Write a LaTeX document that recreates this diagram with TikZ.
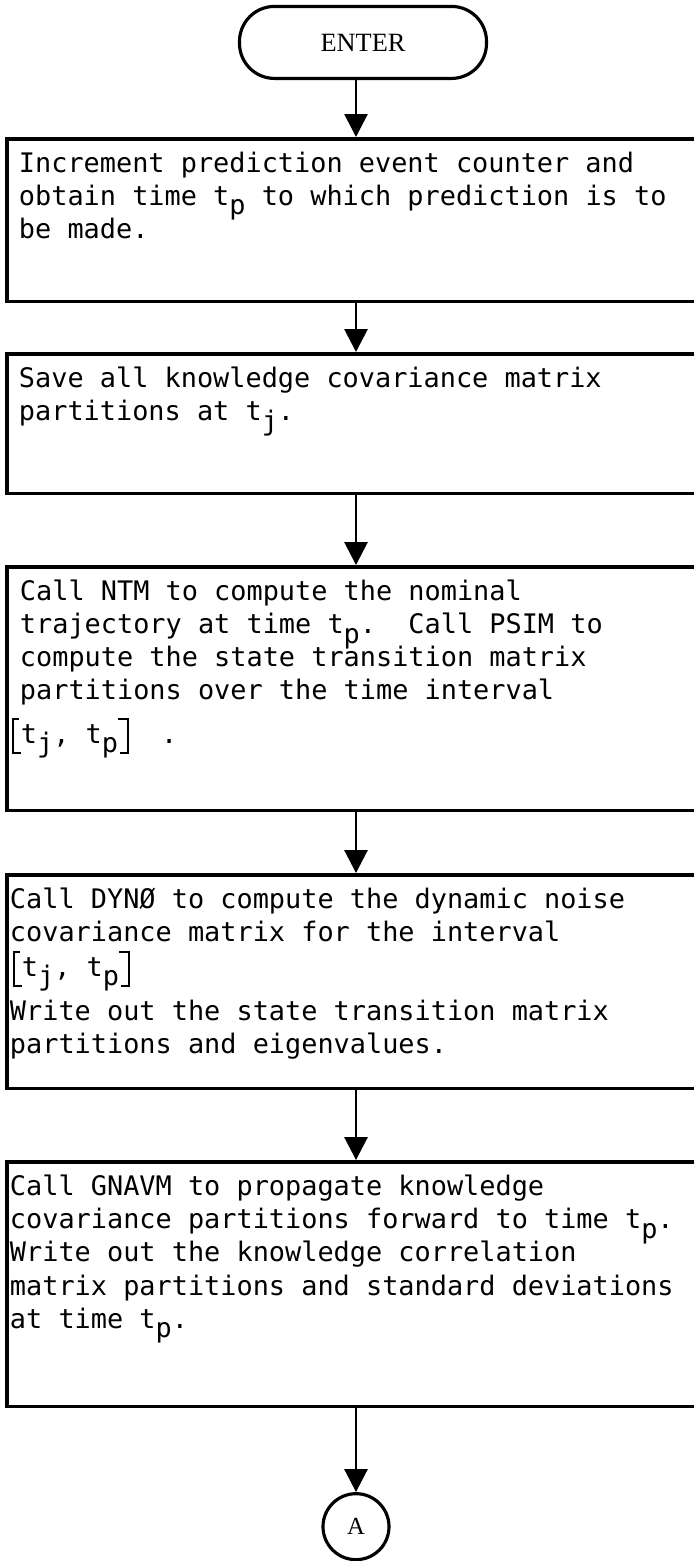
\documentclass[tikz,border=0pt]{standalone}
\usepackage{fontspec}
\setmainfont{Liberation Serif}
\newfontfamily\typewriter{DejaVu Sans Mono}
\usetikzlibrary{arrows.meta, positioning}

% lowered subscript, same cell as a typed letter
\newcommand{\lowsub}[1]{\smash{\raisebox{-0.34em}{#1}}}
% hand-ruled brackets round the time interval
\newcommand{\lbrak}{\rlap{\rule[-6pt]{5pt}{1.1pt}}\rlap{\rule[13.6pt]{4pt}{1.1pt}}\rule[-6pt]{1.1pt}{20.7pt}\kern4pt}
\newcommand{\rbrak}{\kern5pt\llap{\rule[-6pt]{4pt}{1.1pt}}\llap{\rule[13.6pt]{5pt}{1.1pt}}\rule[-6pt]{1.1pt}{20.7pt}}
\newcommand{\interval}{\raisebox{0pt}[12pt][4pt]{\lbrak t\lowsub{j}, t\lowsub{p}\rbrak}}
% box text: height, left margin, lines
\newcommand{\boxbody}[3]{\parbox[c][#1][t]{13.96cm}{\raggedright\leftskip=#2\frenchspacing\vspace*{0.27cm}#3}}

\begin{document}
\begin{tikzpicture}[
    node distance=1cm,
    terminal/.style={draw, rectangle, rounded corners=0.7cm, line width=1.8pt, minimum width=4.94cm, minimum height=1.44cm, font=\fontsize{15}{17}\selectfont},
    procbox/.style={draw, rectangle, line width=2pt, minimum width=13.96cm, inner sep=0pt, font=\typewriter\fontsize{15.3}{18.8}\selectfont},
    connector/.style={draw, circle, line width=1.8pt, minimum size=1.32cm, inner sep=0pt, font=\fontsize{14}{16}\selectfont},
    arrow/.style={line width=1.6pt, -{Triangle[width=0.46cm, length=0.46cm]}}
]
\useasboundingbox (0,0) rectangle (13.88,-31.22);
\clip (0,0) rectangle (13.88,-31.22);

\node (predict) [procbox, anchor=north] at (7.12,-2.74) {\boxbody{3.25cm}{0.24cm}{%
Increment prediction event counter and\\
obtain time t\lowsub{p} to which prediction is to\\
be made.}};
\node (enter) [terminal, above=1.14cm of predict, xshift=0.14cm] {ENTER};
\node (save) [procbox, below=0.98cm of predict] {\boxbody{2.79cm}{0.24cm}{%
Save all knowledge covariance matrix\\
partitions at t\lowsub{j}.}};
\node (ntm) [procbox, below=1.4cm of save] {\boxbody{4.87cm}{0.26cm}{%
Call NTM to compute the nominal\\
trajectory at time t\lowsub{p}.~ Call PSIM to\\
compute the state transition matrix\\
partitions over the time interval\\[6pt]
\hspace*{-0.16cm}\interval~~.}};
\node (dyn) [procbox, below=1.22cm of ntm] {\boxbody{4.27cm}{0.06cm}{%
Call DYNØ to compute the dynamic noise\\
covariance matrix for the interval\\[1pt]
\hspace*{0.06cm}\interval\\[6pt]
Write out the state transition matrix\\
partitions and eigenvalues.}};
\node (gnavm) [procbox, below=1.4cm of dyn] {\boxbody{4.89cm}{0.06cm}{%
Call GNAVM to propagate knowledge\\
covariance partitions forward to time t\lowsub{p}.\\
Write out the knowledge correlation\\
matrix partitions and standard deviations\\
at time t\lowsub{p}.}};
\node (exitA) [connector, below=1.68cm of gnavm] {A};

\draw [arrow] (predict.north |- enter.south) -- (predict.north);
\draw [arrow] (predict) -- (save);
\draw [arrow] (save) -- (ntm);
\draw [arrow] (ntm) -- (dyn);
\draw [arrow] (dyn) -- (gnavm);
\draw [arrow] (gnavm) -- (exitA);

\end{tikzpicture}
\end{document}
